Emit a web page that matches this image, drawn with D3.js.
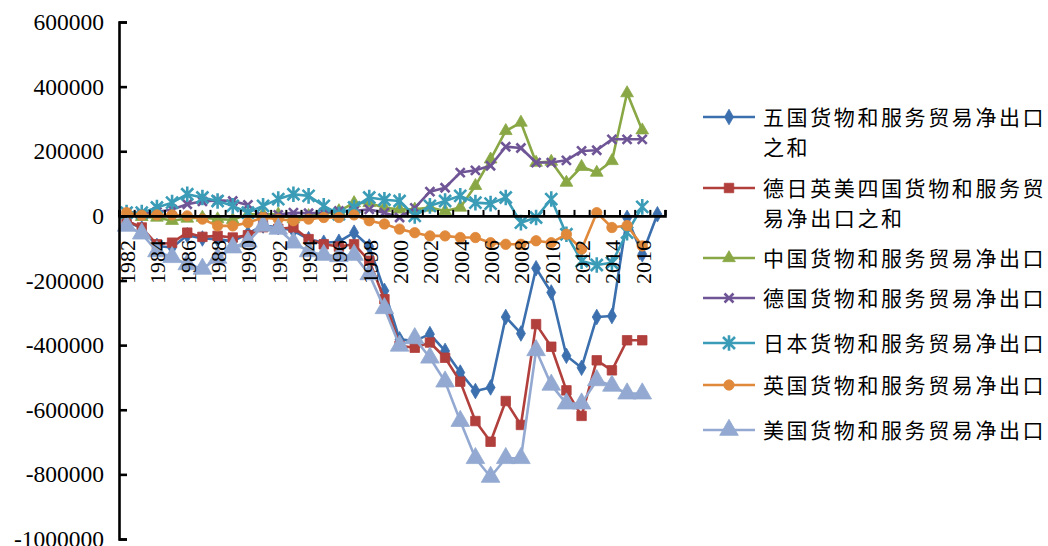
<!DOCTYPE html>
<html>
<head>
<meta charset="utf-8">
<script src="https://cdn.jsdelivr.net/npm/d3@7/dist/d3.min.js"></script>
<style>
  html, body { margin: 0; padding: 0; background: #ffffff; }
  svg { display: block; }
  .num { font-family: "Liberation Serif", "Times New Roman", Times, "DejaVu Serif", serif; }
  .ynum { font-size: 23.5px; }
  .xnum { font-size: 22px; }
  .cjk { font-family: "Noto Sans CJK SC", sans-serif; font-size: 21px; }
</style>
</head>
<body>
<svg id="chart" width="1048" height="546"></svg>
<script>
// Categories (years)
const years = ["1982","1983","1984","1985","1986","1987","1988","1989","1990","1991",
  "1992","1993","1994","1995","1996","1997","1998","1999","2000","2001",
  "2002","2003","2004","2005","2006","2007","2008","2009","2010","2011",
  "2012","2013","2014","2015","2016","2017"];

// Labelled years on the category axis
const yearLabels = ["1982","1984","1986","1988","1990","1992","1994","1996","1998","2000",
  "2002","2004","2006","2008","2010","2012","2014","2016"];

// Value axis ticks
const yTicks = [600000, 400000, 200000, 0, -200000, -400000, -600000, -800000, -1000000];

// Net exports of goods and services
const fiveSum = [-15000,-39000,-93000,-98000,-60000,-70000,-72000,-79000,-55000,-30000,
  -35000,-46000,-72000,-83000,-80000,-52000,-95000,-232000,-382000,-387000,
  -366000,-418000,-485000,-542000,-531000,-313000,-364000,-162000,-237000,-433000,
  -470000,-313000,-310000,-6000,-119000,5000];

const fourSum = [-15000,-36000,-88000,-83000,-52000,-65000,-62000,-67000,-60000,-35000,
  -40000,-36000,-72000,-88000,-95000,-88000,-139000,-258000,-402000,-408000,
  -392000,-439000,-513000,-635000,-699000,-573000,-647000,-335000,-405000,-540000,
  -619000,-447000,-478000,-385000,-385000,null];

const china = [5000,-3000,-5000,-15000,-8000,-5000,-10000,-12000,5000,5000,
  5000,-10000,0,5000,15000,40000,40000,25000,20000,20000,
  26000,15000,26000,93000,175000,263000,289000,165000,168000,103000,
  152000,134000,170000,380000,265000,null];

const germany = [10000,8000,12000,20000,36000,45000,48000,46000,34000,-5000,
  3000,10000,8000,10000,15000,15000,20000,10000,-5000,25000,
  75000,87000,134000,141000,155000,214000,210000,165000,165000,172000,
  201000,203000,237000,237000,237000,null];

const japan = [10000,10000,26000,41000,67000,57000,46000,31000,10000,31000,
  52000,67000,62000,31000,5000,26000,57000,50000,46000,0,
  31000,46000,62000,41000,38000,57000,-21000,-5000,52000,-57000,
  -140000,-152000,-145000,-52000,28000,null];

const uk = [10000,2000,3000,3000,0,-10000,-31000,-31000,-21000,-5000,
  -10000,-15000,-10000,-5000,-5000,3000,-15000,-25000,-41000,-52000,
  -62000,-62000,-67000,-67000,-83000,-88000,-88000,-77000,-83000,-57000,
  -103000,10000,-36000,-30000,-93000,null];

const us = [-31000,-55000,-110000,-128000,-150000,-164000,-130000,-98000,-80000,-31000,
  -40000,-83000,-110000,-121000,-125000,-121000,-181000,-286000,-402000,-379000,
  -439000,-513000,-635000,-750000,-808000,-750000,-750000,-416000,-523000,-581000,
  -581000,-509000,-526000,-550000,-550000,null];

// Legend entries, already wrapped to the legend width
const seriesNames = [
  ["五国货物和服务贸易净出口", "之和"],
  ["德日英美四国货物和服务贸", "易净出口之和"],
  ["中国货物和服务贸易净出口"],
  ["德国货物和服务贸易净出口"],
  ["日本货物和服务贸易净出口"],
  ["英国货物和服务贸易净出口"],
  ["美国货物和服务贸易净出口"]
];

const seriesValues = [fiveSum, fourSum, china, germany, japan, uk, us];
const seriesColors = ["#3b6fad", "#b13f3c", "#89a845", "#6f5596", "#3a9cb6", "#e0893b", "#93a9d1"];
const seriesMarkers = ["diamond", "square", "triangle", "x", "star", "circle", "bigTriangle"];

const svg = d3.select("#chart");

const x = d3.scaleBand().domain(years).range([119, 665]);
const xEdge = d3.scaleLinear().domain([0, years.length]).range([119, 665]);
const y = d3.scaleLinear().domain([-1000000, 600000]).range([539, 22]);

// Marker path generators
function markerPath(kind) {
  switch (kind) {
    case "diamond": return d3.symbol(d3.symbolDiamond, 70)();
    case "square": return d3.symbol(d3.symbolSquare, 90)();
    case "triangle": return d3.symbol(d3.symbolTriangle, 70)();
    case "bigTriangle": return d3.symbol(d3.symbolTriangle, 150)();
    case "circle": return d3.symbol(d3.symbolCircle, 85)();
    case "x": { const s = 4.5; return `M${-s},${-s}L${s},${s}M${-s},${s}L${s},${-s}`; }
    case "star": { const s = 6; return `M${-s},${-s}L${s},${s}M${-s},${s}L${s},${-s}M0,${-s*1.3}L0,${s*1.3}`; }
  }
}
const strokeMarkers = new Set(["x", "star"]);

// Series lines and markers
const plot = svg.append("g");
seriesValues.forEach((vals, i) => {
  const pts = years.map((yr, j) => ({ yr, v: vals[j] })).filter(p => p.v !== null);
  const line = d3.line().x(p => x(p.yr) + x.bandwidth() / 2).y(p => y(p.v));
  const g = plot.append("g");
  g.append("path")
    .attr("d", line(pts))
    .attr("fill", "none")
    .attr("stroke", seriesColors[i])
    .attr("stroke-width", 2.6)
    .attr("stroke-linejoin", "round");
  const kind = seriesMarkers[i];
  g.selectAll("path.m").data(pts).join("path")
    .attr("class", "m")
    .attr("transform", p => `translate(${x(p.yr) + x.bandwidth() / 2},${y(p.v)})`)
    .attr("d", markerPath(kind))
    .attr("fill", strokeMarkers.has(kind) ? "none" : seriesColors[i])
    .attr("stroke", seriesColors[i])
    .attr("stroke-width", strokeMarkers.has(kind) ? 2.6 : 0.8);
});

// Value axis
const yAxis = svg.append("g")
  .attr("transform", "translate(119,0)")
  .call(d3.axisLeft(y).tickValues(yTicks).tickSize(-8).tickPadding(15).tickFormat(d => String(d)));
yAxis.attr("font-family", null).attr("font-size", null);
yAxis.select(".domain").attr("stroke", "#000").attr("stroke-width", 2.6);
yAxis.selectAll(".tick line").attr("stroke", "#000").attr("stroke-width", 2.6);
yAxis.selectAll(".tick text").attr("class", "num ynum").attr("fill", "#000");

// Category axis line with inward ticks at category boundaries
const xAxis = svg.append("g")
  .attr("transform", `translate(0,${y(0)})`)
  .call(d3.axisBottom(xEdge).tickValues(d3.range(years.length + 1)).tickSize(-6).tickFormat(""));
xAxis.select(".domain").attr("stroke", "#000").attr("stroke-width", 2.6);
xAxis.selectAll(".tick line").attr("stroke", "#000").attr("stroke-width", 2);

// Category labels, rotated, reading upwards
const xLabels = svg.append("g")
  .attr("transform", "translate(0,240)")
  .call(d3.axisBottom(x).tickValues(yearLabels).tickSize(0));
xLabels.attr("font-family", null).attr("font-size", null);
xLabels.select(".domain").remove();
xLabels.selectAll(".tick text")
  .attr("class", "num xnum")
  .attr("fill", "#000")
  .attr("transform", "rotate(-90)")
  .attr("text-anchor", "end")
  .attr("x", 0)
  .attr("y", 0)
  .attr("dy", "0.38em");

// Legend
const legendRows = [117, 188, 258, 298, 343, 385, 430];
const legendPitch = 23.6;
const legend = svg.append("g");
seriesNames.forEach((lines, i) => {
  const cy = legendRows[i];
  const g = legend.append("g");
  g.append("line")
    .attr("x1", 703).attr("x2", 755).attr("y1", cy).attr("y2", cy)
    .attr("stroke", seriesColors[i]).attr("stroke-width", 2.6);
  const kind = seriesMarkers[i];
  g.append("path")
    .attr("transform", `translate(729,${cy})`)
    .attr("d", markerPath(kind))
    .attr("fill", strokeMarkers.has(kind) ? "none" : seriesColors[i])
    .attr("stroke", seriesColors[i])
    .attr("stroke-width", strokeMarkers.has(kind) ? 2.6 : 0.8);
  lines.forEach((t, k) => {
    g.append("text")
      .attr("class", "cjk")
      .attr("x", 763)
      .attr("y", cy + k * 30)
      .attr("dy", "0.36em")
      .attr("fill", "#000")
      .attr("textLength", t.length * legendPitch - 2.6)
      .attr("lengthAdjust", "spacing")
      .text(t);
  });
});
</script>
</body>
</html>
